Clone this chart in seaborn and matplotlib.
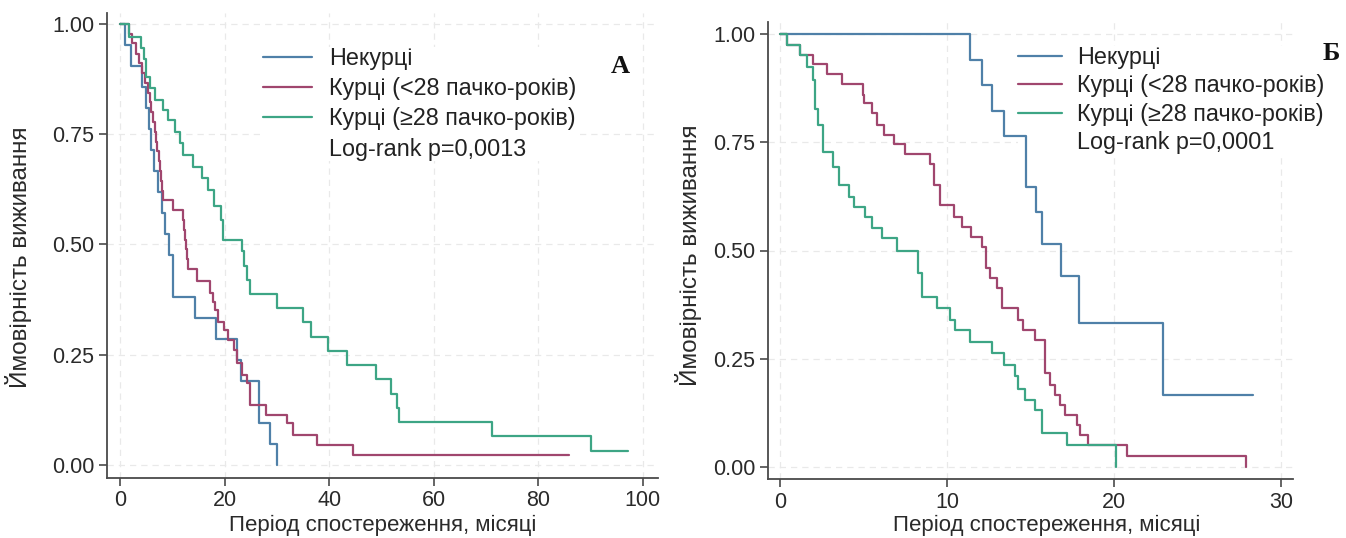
import matplotlib
matplotlib.use("Agg")
import matplotlib.pyplot as plt
from matplotlib.lines import Line2D
import seaborn as sns
import pandas as pd

# ---------------- data ----------------
series_labels = ["Некурці", "Курці (<28 пачко-років)", "Курці (≥28 пачко-років)"]
pvalue_a = "Log-rank p=0,0013"
pvalue_b = "Log-rank p=0,0001"
panel_letters = ["А", "Б"]
ylabel = "Ймовірність виживання"
xlabel = "Період спостереження, місяці"
yticks = [0.0, 0.25, 0.5, 0.75, 1.0]
ytick_labels = ["0.00", "0.25", "0.50", "0.75", "1.00"]
xticks_a = [0, 20, 40, 60, 80, 100]
xticks_b = [0, 10, 20, 30]

# Panel A
a_non_t = [0, 1.0, 2.0, 4.1, 5.0, 5.5, 6.0, 6.5, 7.2, 8.0, 8.6, 9.3, 10.1, 14.3, 18.3, 22.3, 23.2, 26.6, 28.7, 30.0]
a_non_s = [1, .952, .905, .857, .810, .762, .714, .667, .619, .571, .524, .476, .381, .333, .286, .238, .190, .095, .048, 0.0]

a_lo_t = [0, 1.8, 2.2, 3.0, 3.6, 4.2, 4.8, 5.4, 5.7, 6.0, 6.3, 6.6, 6.9, 7.1, 7.4, 7.6, 7.9, 8.1, 8.3,
          10.2, 12.0, 12.2, 12.4, 12.6, 12.8, 13.0, 14.7, 17.2, 17.8, 18.2, 18.8, 19.8, 20.7, 21.7, 22.3,
          23.3, 24.2, 24.9, 28.0, 32.0, 33.0, 37.6, 44.6, 85.9]
a_lo_s = [1, .978, .956, .933, .911, .889, .867, .844, .822, .800, .778, .756, .733, .711, .689, .667, .644, .622, .600,
          .578, .556, .533, .511, .489, .467, .444, .416, .389, .370, .351, .325, .306, .283, .261, .231,
          .204, .185, .136, .113, .095, .068, .045, .022, .022]

a_hi_t = [0, 1.7, 4.0, 4.5, 5.0, 5.8, 6.7, 8.3, 9.2, 10.5, 11.5, 12.1, 13.9, 15.6, 16.9, 17.9, 19.3, 19.6,
          23.3, 23.8, 24.2, 24.8, 30.0, 35.0, 36.5, 39.8, 43.4, 49.0, 51.8, 52.9, 53.3, 71.1, 90.0, 97.1]
a_hi_s = [1, .97, .945, .92, .88, .855, .828, .805, .782, .756, .73, .703, .676, .65, .624, .586, .556, .51,
          .484, .452, .419, .387, .355, .323, .29, .258, .226, .194, .161, .129, .097, .065, .032, .032]

# Panel B
b_non_t = [0, 11.35, 12.1, 12.7, 13.4, 14.7, 15.3, 15.7, 16.8, 17.9, 22.9, 28.3]
b_non_s = [1, .941, .882, .823, .765, .647, .588, .515, .44, .332, .166, .166]

b_lo_t = [0, 0.4, 1.2, 2.0, 2.8, 3.7, 4.95, 5.05, 5.5, 5.83, 6.2, 6.8, 7.5, 9.0, 9.2, 9.6, 10.4, 10.9, 11.4,
          12.1, 12.33, 12.57, 12.97, 13.27, 14.27, 14.57, 15.27, 15.87, 16.17, 16.47, 16.77, 17.07, 17.76,
          17.96, 18.46, 20.76, 27.9]
b_lo_s = [1, .976, .952, .93, .907, .884, .859, .84, .817, .791, .768, .745, .722, .699, .651, .605, .578, .555, .532,
          .509, .459, .436, .413, .366, .339, .316, .293, .217, .189, .166, .143, .12, .097,
          .074, .051, .026, 0.0]

b_hi_t = [0, 0.4, 1.2, 1.6, 2.0, 2.1, 2.3, 2.6, 3.2, 3.5, 4.1, 4.4, 5.1, 5.5, 6.1, 7.0, 8.28, 8.48, 9.38,
          10.18, 10.48, 11.38, 12.68, 13.4, 14.07, 14.27, 14.67, 15.27, 15.67, 17.17, 20.1]
b_hi_s = [1, .976, .952, .924, .894, .828, .79, .728, .693, .651, .624, .601, .578, .551, .528, .5, .447, .393, .366,
          .339, .316, .289, .263, .235, .209, .181, .155, .132, .079, .05, 0.0]

colors = ["#4f80a8", "#a0466e", "#3da585"]

# ---------------- style ----------------
sns.set_theme(style="white")
plt.rcParams["font.family"] = ["Liberation Sans", "DejaVu Sans"]

fig = plt.figure(figsize=(13.46, 5.38), dpi=100)
W, H = 1346.0, 538.0
axA = fig.add_axes([107 / W, 1 - 478 / H, 551 / W, 465 / H])
axB = fig.add_axes([768 / W, 1 - 479 / H, 525 / W, 457 / H])

panels = [
    (axA, [(a_non_t, a_non_s), (a_lo_t, a_lo_s), (a_hi_t, a_hi_s)], xticks_a, (-2.5, 102.9), (-0.03, 1.025), pvalue_a),
    (axB, [(b_non_t, b_non_s), (b_lo_t, b_lo_s), (b_hi_t, b_hi_s)], xticks_b, (-0.72, 30.7), (-0.028, 1.028), pvalue_b),
]

for ax, data, xt, xl, yl, pv in panels:
    for (t, s), lab, col in zip(data, series_labels, colors):
        df = pd.DataFrame({"t": t, "s": s})
        sns.lineplot(data=df, x="t", y="s", ax=ax, color=col, lw=1.6,
                     drawstyle="steps-post", estimator=None, sort=False, label=lab)
    ax.set_xlim(*xl)
    ax.set_ylim(*yl)
    ax.set_xticks(xt)
    ax.set_yticks(yticks)
    ax.set_yticklabels(ytick_labels)
    ax.grid(True, ls=(0, (5, 4)), color="#e9e9e9", lw=0.9)
    ax.set_axisbelow(True)
    for sp in ["top", "right"]:
        ax.spines[sp].set_visible(False)
    for sp in ["left", "bottom"]:
        ax.spines[sp].set_color("#4a4a4a")
        ax.spines[sp].set_linewidth(1.3)
    ax.tick_params(direction="out", length=6, width=1.2, color="#4a4a4a",
                   labelsize=15.5, labelcolor="#2a2a2a", pad=3,
                   bottom=True, left=True)
    ax.set_xlabel(xlabel, fontsize=16, color="#2a2a2a")
    ax.set_ylabel(ylabel, fontsize=17.5, color="#2a2a2a")

    handles, labels = ax.get_legend_handles_labels()
    handles = handles + [Line2D([], [], color="none")]
    labels = labels + [pv]
    if ax.legend_:
        ax.legend_.remove()
    if ax is axA:
        anchor = ((263 - 107) / 551, (478 - 47) / 465)
        spacing = 0.31
        hl = 2.1
        tp = 0.72
    else:
        anchor = ((1018 - 768) / 525, (479 - 46) / 457)
        spacing = 0.23
        hl = 1.9
        tp = 0.64
    leg = ax.legend(handles, labels, loc="upper left", bbox_to_anchor=anchor,
                    frameon=True, facecolor="white", edgecolor="none", framealpha=1,
                    fontsize=16.8, handlelength=hl, handletextpad=tp,
                    labelspacing=spacing, borderpad=0.0, borderaxespad=0.0)
    leg.set_zorder(1.5)
    for txt in leg.get_texts():
        txt.set_color("#222222")

axA.xaxis.set_label_coords(0.5, (478 - 515) / 465)
axB.xaxis.set_label_coords(0.53, (479 - 515) / 457)
axA.yaxis.set_label_coords((32 - 107) / 551, (478 - 257) / 465)
axB.yaxis.set_label_coords((702 - 768) / 525, (479 - 255) / 457)

fig.text(620 / W, 1 - 66 / H, panel_letters[0], fontsize=19, fontweight="bold",
         family=["Liberation Serif", "DejaVu Serif"], ha="center", va="center",
         color="#111111", bbox=dict(facecolor="white", edgecolor="none", pad=6))
fig.text(1331 / W, 1 - 53 / H, panel_letters[1], fontsize=19, fontweight="bold",
         family=["Liberation Serif", "DejaVu Serif"], ha="center", va="center",
         color="#111111")

fig.savefig("out.png", dpi=100, facecolor="white")
